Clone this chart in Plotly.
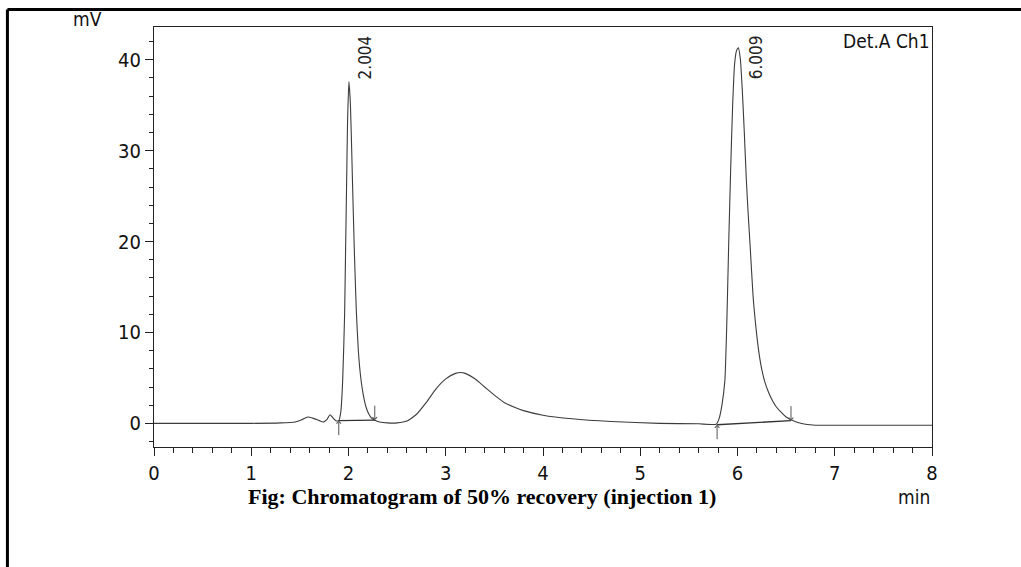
import plotly.graph_objects as go

# ---- data ----
time_min = [0.0, 0.5, 1.0, 1.3, 1.45, 1.52, 1.58, 1.64, 1.70, 1.74, 1.78, 1.81, 1.84, 1.87, 1.90,
            1.92, 1.94, 1.96, 1.97, 1.98, 1.99, 2.004, 2.02, 2.04, 2.06, 2.08, 2.10, 2.12, 2.14,
            2.16, 2.18, 2.21, 2.24, 2.27, 2.32, 2.40, 2.50, 2.60, 2.70, 2.80, 2.90, 3.00, 3.10,
            3.15, 3.20, 3.30, 3.40, 3.50, 3.60, 3.70, 3.80, 4.00, 4.30, 4.70, 5.20, 5.60, 5.78,
            5.81, 5.84, 5.87, 5.89, 5.91, 5.93, 5.95, 5.97, 5.99, 6.009, 6.03, 6.05, 6.07, 6.09,
            6.11, 6.13, 6.16, 6.19, 6.22, 6.25, 6.28, 6.32, 6.36, 6.40, 6.45, 6.50, 6.55, 6.62,
            6.70, 6.80, 7.20, 8.0]
signal_mv = [0.0, 0.0, 0.0, 0.05, 0.15, 0.4, 0.7, 0.55, 0.3, 0.15, 0.45, 0.95, 0.6, 0.3, 0.3,
             1.2, 4.7, 12.0, 19.0, 26.0, 33.0, 37.6, 35.0, 27.0, 19.0, 12.5, 8.2, 5.6, 3.9,
             2.7, 1.8, 1.0, 0.55, 0.35, 0.15, 0.05, 0.05, 0.25, 1.0, 2.3, 3.8, 4.9, 5.5,
             5.6, 5.5, 4.9, 4.0, 3.1, 2.3, 1.8, 1.4, 0.9, 0.5, 0.2, 0.0, -0.05, -0.1,
             0.5, 2.0, 4.7, 11.0, 20.0, 28.0, 35.0, 39.5, 41.0, 41.3, 40.0, 36.5, 32.0, 27.0,
             23.0, 19.5, 14.0, 10.5, 7.8, 5.9, 4.6, 3.4, 2.5, 1.8, 1.2, 0.7, 0.4, 0.1,
             -0.1, -0.2, -0.2, -0.2]

peak_times = [2.004, 6.009]
peak_heights = [37.6, 41.3]
peak_labels = ["2.004", "6.009"]

# integration baselines (start time, start mV, end time, end mV)
base_start_t = [1.90, 5.79]
base_start_v = [0.3, -0.15]
base_end_t = [2.27, 6.55]
base_end_v = [0.35, 0.3]

x_tickvals = [0, 1, 2, 3, 4, 5, 6, 7, 8]
y_tickvals = [0, 10, 20, 30, 40]

FONT = "DejaVu Sans Condensed, Liberation Sans Narrow, Arial Narrow, Liberation Sans, Arial, sans-serif"

fig = go.Figure()
fig.add_trace(go.Scatter(x=time_min, y=signal_mv, mode="lines",
                         line=dict(color="#3c3c3c", width=1.1, shape="spline", smoothing=0.5),
                         hoverinfo="skip", showlegend=False))
for i in range(len(base_start_t)):
    fig.add_trace(go.Scatter(x=[base_start_t[i], base_end_t[i]], y=[base_start_v[i], base_end_v[i]],
                             mode="lines", line=dict(color="#333333", width=1.3),
                             hoverinfo="skip", showlegend=False))

annotations = []
# peak labels
annotations.append(dict(x=peak_times[0], y=peak_heights[0], xref="x", yref="y",
                        text=peak_labels[0], showarrow=False, textangle=-90,
                        xanchor="left", yanchor="bottom", xshift=4,
                        font=dict(family=FONT, size=17, color="#222")))
annotations.append(dict(x=peak_times[1], y=0.986, xref="paper", yref="paper",
                        text=peak_labels[1], showarrow=False, textangle=-90,
                        xanchor="left", yanchor="top", xshift=5,
                        font=dict(family=FONT, size=17, color="#222")))
annotations[-1]["xref"] = "x"
# baseline arrows
for i in range(len(base_start_t)):
    annotations.append(dict(x=base_start_t[i], y=base_start_v[i], xref="x", yref="y", text="",
                            showarrow=True, ax=0, ay=16, arrowhead=4, arrowsize=0.9,
                            arrowwidth=1, arrowcolor="#555"))
    annotations.append(dict(x=base_end_t[i], y=base_end_v[i], xref="x", yref="y", text="",
                            showarrow=True, ax=0, ay=-16, arrowhead=4, arrowsize=0.9,
                            arrowwidth=1, arrowcolor="#555"))
# texts
annotations.append(dict(x=1.0, y=1.0, xref="paper", yref="paper", text="Det.A Ch1",
                        showarrow=False, xanchor="right", yanchor="top", yshift=-1,
                        font=dict(family=FONT, size=19, color="#111")))
annotations.append(dict(x=-0.0855, y=1.019, xref="paper", yref="paper", text="mV",
                        showarrow=False, xanchor="center", yanchor="middle",
                        font=dict(family=FONT, size=19, color="#111")))
annotations.append(dict(x=1.0, y=-0.118, xref="paper", yref="paper", text="min",
                        showarrow=False, xanchor="right", yanchor="middle",
                        font=dict(family=FONT, size=19, color="#111")))
annotations.append(dict(x=0.4216, y=-0.117, xref="paper", yref="paper",
                        text="<b>Fig: Chromatogram of 50% recovery (injection 1)</b>",
                        showarrow=False, xanchor="center", yanchor="middle",
                        font=dict(family="Liberation Serif, Times New Roman, serif", size=22, color="#000")))

shapes = [
    dict(type="line", xref="paper", yref="paper", x0=-0.1884, y0=1.0417, x1=1.2, y1=1.0417,
         line=dict(color="black", width=3)),
    dict(type="line", xref="paper", yref="paper", x0=-0.1884, y0=1.0417, x1=-0.1884, y1=-0.35,
         line=dict(color="black", width=3)),
]

fig.update_layout(
    width=1021, height=567,
    margin=dict(l=154, r=89, t=27, b=120),
    paper_bgcolor="white", plot_bgcolor="white",
    annotations=annotations, shapes=shapes,
    xaxis=dict(range=[0, 8], tickvals=x_tickvals, ticks="outside", ticklen=8, tickwidth=1,
               tickcolor="#222", showline=True, linecolor="#222", linewidth=1, mirror=True,
               showgrid=False, zeroline=False,
               minor=dict(dtick=0.2, ticks="outside", ticklen=5, tickcolor="#222", showgrid=False),
               tickfont=dict(family=FONT, size=20, color="#111")),
    yaxis=dict(range=[-2.6, 43.6], tickvals=y_tickvals, ticks="outside", ticklen=8, tickwidth=1,
               tickcolor="#222", showline=True, linecolor="#222", linewidth=1, mirror=True,
               showgrid=False, zeroline=False,
               minor=dict(dtick=2, ticks="outside", ticklen=4, tickcolor="#222", showgrid=False),
               tickfont=dict(family=FONT, size=20, color="#111")),
)

fig.write_html("out.html")
